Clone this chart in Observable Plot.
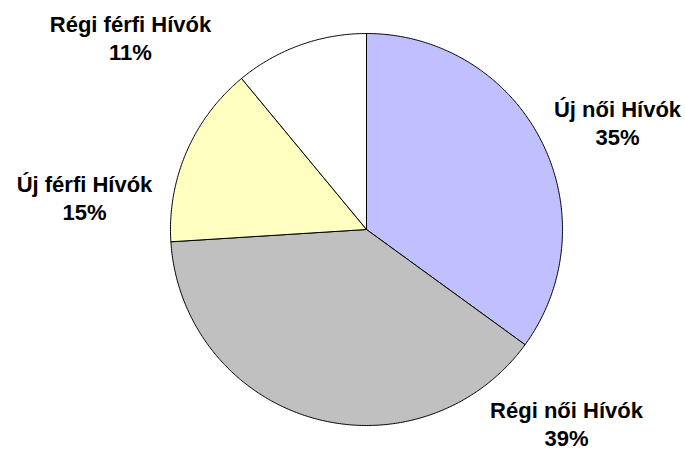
<!DOCTYPE html>
<html>
<head>
<meta charset="utf-8">
<script src="https://cdn.jsdelivr.net/npm/d3@7"></script>
<script src="https://cdn.jsdelivr.net/npm/@observablehq/plot@0.6"></script>
<style>
  html, body { margin: 0; padding: 0; background: #fff; }
  #chart { width: 685px; height: 449px; }
</style>
</head>
<body>
<div id="chart"></div>
<script>
// Data
const categories = ["Új női Hívók", "Régi női Hívók", "Új férfi Hívók", "Régi férfi Hívók"];
const values = [35, 39, 15, 11];
const sliceColors = ["#c0c0ff", "#c0c0c0", "#ffffc0", "#ffffff"];

// Layout (label block centres in pixels)
const labelLayout = {
  "Új női Hívók": [617, 122],
  "Régi női Hívók": [566, 423],
  "Új férfi Hívók": [84, 197],
  "Régi férfi Hívók": [130, 37]
};

const total = d3.sum(values);
const arcs = d3.pie().sort(null).value(d => d)(values);

// Build slice outlines in unit-circle space (angles clockwise from north)
const outline = [];
arcs.forEach((a, i) => {
  const name = categories[i];
  outline.push({name, x: 0, y: 0});
  const steps = Math.max(2, Math.ceil((a.endAngle - a.startAngle) / (Math.PI / 360)));
  for (let k = 0; k <= steps; k++) {
    const t = a.startAngle + (a.endAngle - a.startAngle) * k / steps;
    outline.push({name, x: Math.sin(t), y: Math.cos(t)});
  }
  outline.push({name, x: 0, y: 0});
});

const cx = 366, cy = 229, r = 196;
const labels = categories.map((c, i) => ({
  name: c,
  text: `${c}\n${Math.round(values[i] / total * 100)}%`,
  px: labelLayout[c][0],
  py: labelLayout[c][1]
}));

const plot = Plot.plot({
  width: 685,
  height: 449,
  margin: 0,
  style: {background: "#fff", overflow: "visible"},
  x: {domain: [-1, 1], range: [cx - r, cx + r], axis: null},
  y: {domain: [-1, 1], range: [cy + r, cy - r], axis: null},
  color: {type: "ordinal", domain: categories, range: sliceColors},
  marks: [
    Plot.line(outline, {
      x: "x", y: "y", z: "name", fill: "name",
      stroke: "#000", strokeWidth: 1, strokeLinejoin: "round", curve: "linear"
    }),
    Plot.text(labels, {
      x: d => (d.px - cx) / r,
      y: d => (cy - d.py) / r,
      text: "text",
      fontSize: 22,
      fontWeight: "bold",
      fontFamily: "Liberation Sans, Arial, sans-serif",
      fill: "#000",
      lineHeight: 1.27,
      textAnchor: "middle",
      letterSpacing: "0.3px"
    })
  ]
});
document.getElementById("chart").appendChild(plot);
</script>
</body>
</html>
